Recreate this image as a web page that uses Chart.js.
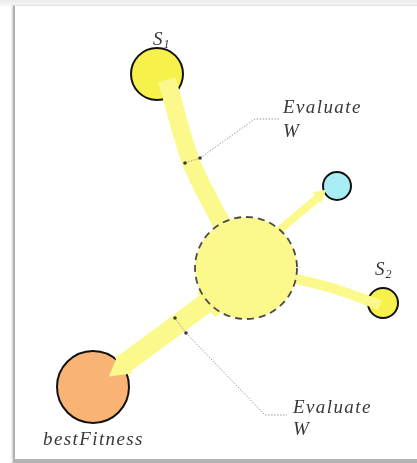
<!DOCTYPE html>
<html><head><meta charset="utf-8">
<script src="https://cdn.jsdelivr.net/npm/chart.js@4/dist/chart.umd.min.js"></script>
<style>
html,body{margin:0;padding:0;background:#fff;width:417px;height:463px;overflow:hidden}
#top{position:absolute;left:0;top:0;width:417px;height:6px;background:linear-gradient(#ececec,#f6f6f6)}
#frame{position:absolute;left:13px;top:5px;width:420px;height:453px;border-left:2px solid #b3b3b3;border-top:1px solid #e4e4e4;border-bottom:4px solid #b4b4b4;box-shadow:-1px 1px 2px #d0d0d0;background:#fff}
#wrap{position:absolute;left:0;top:0;width:417px;height:463px}
</style></head>
<body>
<div id="top"></div><div id="frame"></div>
<div id="wrap"><canvas id="c"></canvas></div>
<script>
// ---- nodes (diagram coordinates) ----
const nodeNames = ['S1', 'neighbour', 'swarm', 'S2', 'bestFitness'];
const nodeX = [157, 337, 246, 383, 93];
const nodeY = [74, 186, 268, 303, 387];
const nodeSize = [26, 14, 51, 15, 36];

// ---- connecting bands (path points) ----
const bandS1X = [167, 191, 224];
const bandS1Y = [80, 162, 228];
const bandBlueX = [268, 296, 320];
const bandBlueY = [240, 216, 196];
const bandS2X = [288, 332, 380];
const bandS2Y = [277, 288, 305];
const bandBestX = [214, 170, 121];
const bandBestY = [297, 330, 366];
const bandBestFlareX = [224, 206];
const bandBestFlareY = [292, 305];

// ---- arrow heads ----
const arrowX = [120, 320];
const arrowY = [368, 195];
const arrowDir = [233, 50];

// ---- "Evaluate W" callouts ----
const callTopX = [200, 255, 279];
const callTopY = [158, 119, 119];
const callBotX = [186, 265, 287];
const callBotY = [333, 415, 415];
const markTopX = [185, 200];
const markTopY = [163, 158];
const markBotX = [175, 186];
const markBotY = [318, 333];

// ---- text labels ----
const labelText = ['Evaluate', 'W', 'Evaluate', 'W', 'bestFitness'];
const labelX = [283, 283, 293, 293, 43];
const labelY = [113, 137, 413, 435, 445];
const subLabelMain = ['S', 'S'];
const subLabelIdx = ['1', '2'];
const subLabelX = [153, 375];
const subLabelY = [45, 275];

const pts = (xs, ys) => xs.map((x, i) => ({x: x, y: ys[i]}));

const BAND = '#fcf98c';
const nodeFill = ['#f6f14b', '#a9eef5', BAND, '#f6f14b', '#f9b375'];

const nodeDatasets = nodeNames.map((n, i) => ({
  type: 'bubble',
  label: n,
  data: [{x: nodeX[i], y: nodeY[i], r: nodeSize[i]}],
  backgroundColor: nodeFill[i],
  borderColor: '#111',
  borderWidth: n === 'swarm' ? 0 : 2,
  order: n === 'swarm' ? 20 : 50
}));

function band(label, xs, ys, w, tension) {
  return {
    type: 'line', label: label, data: pts(xs, ys),
    borderColor: BAND, borderWidth: w, borderCapStyle: 'butt', borderJoinStyle: 'round',
    pointRadius: 0, tension: tension, fill: false, order: 40
  };
}
function leader(label, xs, ys) {
  return {
    type: 'line', label: label, data: pts(xs, ys),
    borderColor: '#9a9a9a', borderWidth: 1, borderDash: [1.5, 1.5],
    pointRadius: 0, tension: 0, fill: false, order: 10
  };
}

const datasets = [
  ...nodeDatasets,
  band('bandS1', bandS1X, bandS1Y, 18, 0.3),
  band('bandBlue', bandBlueX, bandBlueY, 8, 0.2),
  band('bandS2', bandS2X, bandS2Y, 10, 0.3),
  band('bandBest', bandBestX, bandBestY, 20, 0.1),
  band('bandBestFlare', bandBestFlareX, bandBestFlareY, 30, 0),
  {
    type: 'line', label: 'arrows', data: pts(arrowX, arrowY), showLine: false,
    pointStyle: 'triangle', pointRadius: [14, 8], pointRotation: arrowDir,
    pointBackgroundColor: BAND, pointBorderWidth: 0, order: 30
  },
  leader('callTop', callTopX, callTopY),
  leader('callBot', callBotX, callBotY),
  leader('markTop', markTopX, markTopY),
  leader('markBot', markBotX, markBotY),
  {
    type: 'line', label: 'marks', data: pts(markTopX.concat(markBotX), markTopY.concat(markBotY)),
    showLine: false, pointRadius: 1.8, pointBackgroundColor: '#3a3a3a', pointBorderWidth: 0, order: 5
  }
];

const dashedRing = {
  id: 'dashedRing',
  afterDatasetsDraw(chart) {
    const idx = nodeNames.indexOf('swarm');
    const el = chart.getDatasetMeta(idx).data[0];
    const ctx = chart.ctx;
    ctx.save();
    ctx.setLineDash([7, 5]);
    ctx.strokeStyle = '#4a4a4a';
    ctx.lineWidth = 1.8;
    ctx.beginPath();
    ctx.arc(el.x, el.y, el.options.radius, 0, Math.PI * 2);
    ctx.stroke();
    ctx.restore();
  }
};

const textLabels = {
  id: 'textLabels',
  afterDraw(chart) {
    const ctx = chart.ctx, sx = chart.scales.x, sy = chart.scales.y;
    ctx.save();
    ctx.fillStyle = '#383838';
    ctx.textBaseline = 'alphabetic';
    ctx.textAlign = 'left';
    ctx.font = 'italic 19px "Liberation Serif"';
    if ('letterSpacing' in ctx) ctx.letterSpacing = '1.4px';
    labelText.forEach((t, i) => {
      ctx.fillText(t, sx.getPixelForValue(labelX[i]), sy.getPixelForValue(labelY[i]));
    });
    if ('letterSpacing' in ctx) ctx.letterSpacing = '0px';
    subLabelMain.forEach((t, i) => {
      const x = sx.getPixelForValue(subLabelX[i]), y = sy.getPixelForValue(subLabelY[i]);
      ctx.font = 'italic 19px "Liberation Serif"';
      ctx.fillText(t, x, y);
      const w = ctx.measureText(t).width;
      ctx.font = 'italic 12px "Liberation Serif"';
      ctx.fillText(subLabelIdx[i], x + w + 1, y + 3);
    });
    ctx.restore();
  }
};

new Chart(document.getElementById('c'), {
  type: 'bubble',
  data: {datasets: datasets},
  options: {
    responsive: true, maintainAspectRatio: false, animation: false, events: [],
    layout: {padding: 0, autoPadding: false},
    plugins: {legend: {display: false}, tooltip: {enabled: false}},
    scales: {
      x: {type: 'linear', min: 0, max: 417, display: false},
      y: {type: 'linear', min: 0, max: 463, reverse: true, display: false}
    }
  },
  plugins: [dashedRing, textLabels]
});
</script>
</body></html>
